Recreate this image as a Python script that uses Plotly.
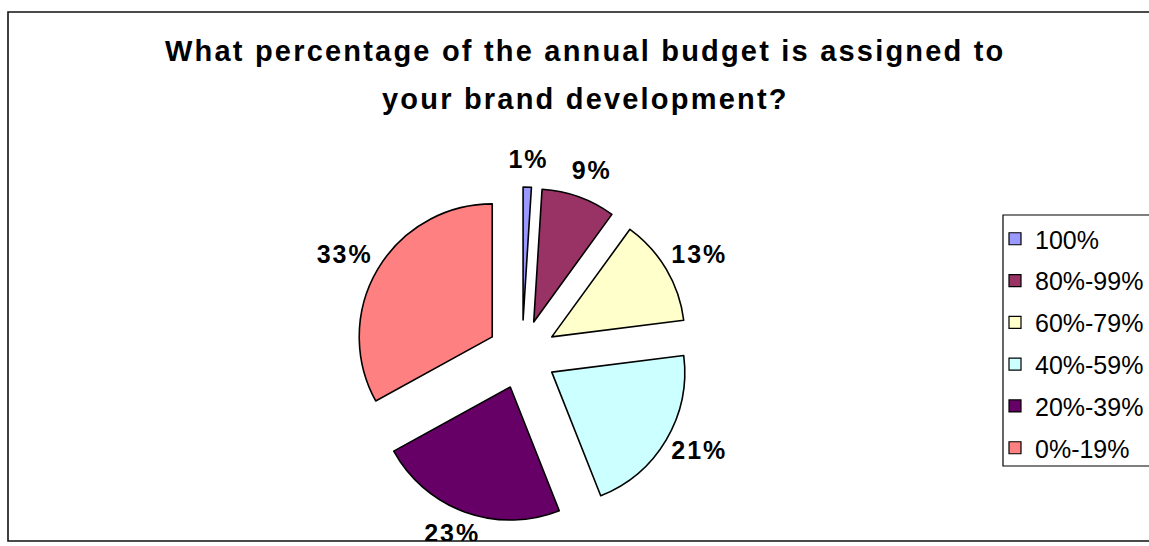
import math
import plotly.graph_objects as go

# Survey answers: share of the annual budget assigned to brand development
categories = ["100%", "80%-99%", "60%-79%", "40%-59%", "20%-39%", "0%-19%"]
shares = [1, 9, 13, 21, 23, 33]
colors = ["#9999FF", "#993366", "#FFFFCC", "#CCFFFF", "#660066", "#FF8080"]

title_lines = [
    "What percentage of the annual budget is assigned to",
    "your brand development?",
]

W, H = 1149, 546
FONT = "Liberation Sans, Arial, sans-serif"

# pie geometry (pixels, y measured from the top of the page)
PIE_CX, PIE_CY = 522, 354.5
PIE_R = 133
PULL = 0.26
R_OUT = PIE_R * (1 + PULL)
# labels sit on a ring just outside the exploded slices, pushed out by
# half of the label box (wider than tall)
LABEL_R0 = 182
LABEL_HALF_W, LABEL_HALF_H = 24, 11


def spaced(txt, px):
    return f'<span style="letter-spacing:{px}px">{txt}</span>'


fig = go.Figure()

fig.add_trace(go.Pie(
    labels=categories,
    values=shares,
    sort=False,
    direction="clockwise",
    rotation=0,
    pull=[PULL] * len(shares),
    marker=dict(colors=colors, line=dict(color="#000000", width=1.6)),
    textinfo="none",
    hoverinfo="label+percent",
    showlegend=False,
    domain=dict(
        x=[(PIE_CX - R_OUT) / W, (PIE_CX + R_OUT) / W],
        y=[(H - PIE_CY - R_OUT) / H, (H - PIE_CY + R_OUT) / H],
    ),
))

# percentage labels placed outside each slice, along its mid angle
total = sum(shares)
lx, ly, ltxt = [], [], []
acc = 0
for v in shares:
    mid = (acc + v / 2) / total * 2 * math.pi
    acc += v
    lx.append(PIE_CX + (LABEL_R0 + LABEL_HALF_W) * math.sin(mid))
    ly.append(PIE_CY - (LABEL_R0 + LABEL_HALF_H) * math.cos(mid))
    ltxt.append(spaced(f"{round(v / total * 100)}%", 2.0))

fig.add_trace(go.Scatter(
    x=lx, y=ly, text=ltxt, mode="text",
    textposition="middle center",
    textfont=dict(family=FONT, size=25, color="#000000", weight="bold"),
    cliponaxis=True, hoverinfo="skip", showlegend=False,
))

# legend entries: one square swatch per category
for i, (cat, col) in enumerate(zip(categories, colors)):
    fig.add_trace(go.Scatter(
        x=[None], y=[None], mode="markers", name=cat,
        marker=dict(symbol="square", size=12, color=col,
                    line=dict(color="#000000", width=1.2)),
        legendgroup=f"g{i}", showlegend=True, hoverinfo="skip",
    ))

fig.update_layout(
    width=W, height=H,
    margin=dict(l=0, r=0, t=0, b=0),
    paper_bgcolor="#FFFFFF",
    plot_bgcolor="rgba(0,0,0,0)",
    xaxis=dict(range=[0, W], domain=[0, 1], visible=False, fixedrange=True),
    yaxis=dict(range=[541, 0], domain=[5 / H, 1], visible=False, fixedrange=True),
    showlegend=True,
    legend=dict(
        x=1, y=1 - 216 / H, xanchor="right", yanchor="top",
        bgcolor="rgba(0,0,0,0)", borderwidth=0,
        font=dict(family=FONT, size=25, color="#000000"),
        traceorder="grouped", tracegroupgap=6.3,
        itemsizing="trace",
    ),
    shapes=[
        # outer chart frame
        dict(type="rect", xref="paper", yref="paper",
             x0=8 / W, x1=1.02, y0=1 - 541 / H, y1=1 - 12 / H,
             line=dict(color="#111111", width=1.6), fillcolor="rgba(0,0,0,0)",
             layer="below"),
        # legend box
        dict(type="rect", xref="paper", yref="paper",
             x0=1003 / W, x1=1.02, y0=1 - 466 / H, y1=1 - 215 / H,
             line=dict(color="#000000", width=1.2), fillcolor="#FFFFFF",
             layer="below"),
    ],
    annotations=[
        dict(text=spaced(title_lines[0], 2.2), x=585 / W, y=1 - 51 / H,
             xref="paper", yref="paper", showarrow=False,
             xanchor="center", yanchor="middle",
             font=dict(family=FONT, size=29, color="#000000", weight="bold")),
        dict(text=spaced(title_lines[1], 2.2), x=585 / W, y=1 - 99 / H,
             xref="paper", yref="paper", showarrow=False,
             xanchor="center", yanchor="middle",
             font=dict(family=FONT, size=29, color="#000000", weight="bold")),
    ],
)

fig.write_html("out.html")
